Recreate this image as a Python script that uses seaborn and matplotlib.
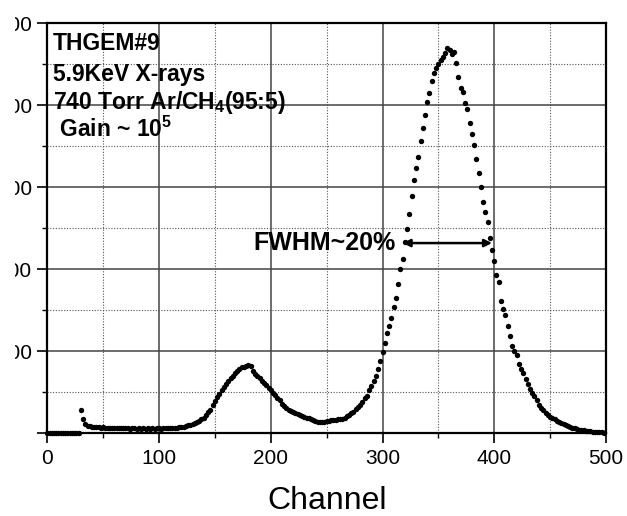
import numpy as np
import pandas as pd
import matplotlib
matplotlib.use("Agg")
import matplotlib.pyplot as plt
import seaborn as sns
from matplotlib.patches import Rectangle
from matplotlib.ticker import MultipleLocator

# Pulse-height spectrum, 2-channel bins
channels = np.arange(0, 500, 2)
counts = (
    [0] * 15
    + [58, 34, 22, 18, 17]
    + [16, 15, 16, 15, 14, 15, 14, 13, 14, 13]
    + [14, 13, 12, 13, 12, 13, 12, 11, 12, 12]
    + [11, 12, 11, 12, 11, 12, 11, 12, 11, 12]
    + [12, 11, 12, 12, 13, 12, 13, 13, 14, 15]
    + [15, 16, 17, 19, 21, 23, 25, 28, 31, 34]
    + [38, 44, 51, 58, 68, 79, 88, 97, 106, 113]
    + [120, 128, 134, 140, 146, 152, 157, 161, 162, 165]
    + [167, 163, 152, 145, 139, 134, 128, 123, 117, 111]
    + [106, 99, 93, 87, 80, 72, 66, 61, 57, 55]
    + [52, 50, 47, 45, 42, 40, 38, 37, 35, 32]
    + [30, 28, 27, 27, 28, 29, 30, 32, 32, 33]
    + [34, 34, 36, 38, 41, 44, 49, 53, 60, 64]
    + [68, 77, 86, 92, 106, 115, 128, 140, 156, 176]
    + [198, 220, 244, 262, 282, 308, 330, 364, 400, 425]
    + [466, 499, 534, 580, 618, 648, 675, 712, 745, 776]
    + [808, 830, 860, 880, 890, 900, 910, 918, 928, 941]
    + [936, 926, 930, 904, 870, 843, 833, 805, 791, 758]
    + [730, 702, 668, 636, 600, 565, 540, 515, 476, 448]
    + [420, 386, 368, 323, 303, 288, 262, 237, 214, 200]
    + [190, 170, 157, 146, 133, 121, 107, 98, 90, 80]
    + [70, 62, 57, 50, 44, 40, 37, 34, 30, 27]
    + [25, 23, 21, 18, 16, 13, 12, 11, 9, 8]
    + [7, 6, 6, 5, 4, 4, 3, 3, 2, 1]
)

x_ticks = [0, 100, 200, 300, 400, 500]
y_ticks = [0, 200, 400, 600, 800, 1000]
y_tick_labels = ["", "200", "400", "600", "800", "1000"]

info_lines = [
    "THGEM#9",
    "5.9KeV X-rays",
    r"740 Torr Ar/CH$_\mathbf{4}$(95:5)",
    r" Gain ~ 10$^\mathbf{5}$",
]
fwhm_left, fwhm_right, half_max = 318, 398, 464
fwhm_label = "FWHM~20%"

sns.set_theme(style="ticks")
plt.rcParams["font.family"] = ["Liberation Sans", "DejaVu Sans"]
plt.rcParams["mathtext.fontset"] = "custom"
plt.rcParams["mathtext.rm"] = "Liberation Sans"
plt.rcParams["mathtext.bf"] = "Liberation Sans:bold"

fig = plt.figure(figsize=(6.27, 5.16), dpi=100)
fig.patch.set_facecolor("white")
ax = fig.add_axes([0.0754, 0.1603, 0.8911, 0.7945])

df = pd.DataFrame({"Channel": channels, "Counts": counts})
sns.scatterplot(data=df, x="Channel", y="Counts", ax=ax, s=15, color="black",
                linewidth=0, zorder=4, legend=False, clip_on=False)

ax.set_xlim(0, 500)
ax.set_ylim(0, 1000)
ax.set_xticks(x_ticks)
ax.set_yticks(y_ticks)
ax.set_yticklabels(y_tick_labels)
ax.xaxis.set_minor_locator(MultipleLocator(50))
ax.yaxis.set_minor_locator(MultipleLocator(100))

ax.grid(which="major", color="#444444", linewidth=1.1, linestyle="-", zorder=1)
ax.grid(which="minor", color="#555555", linewidth=0.8, linestyle=(0, (1, 1.5)), zorder=1)
ax.set_axisbelow(True)

for s in ax.spines.values():
    s.set_visible(True)
    s.set_color("black")
    s.set_linewidth(1.6)

ax.tick_params(which="major", direction="out", length=7, width=1.2, color="black",
               labelsize=15, labelcolor="black", pad=4)
ax.tick_params(which="minor", direction="out", length=3.5, width=1.0, color="black")

ax.set_xlabel("Channel", fontsize=23, labelpad=13, color="black")
ax.set_ylabel("")

baselines = [0.935, 0.859, 0.791, 0.723]
for txt, yb in zip(info_lines, baselines):
    ax.text(0.010, yb, txt, transform=ax.transAxes, ha="left", va="baseline",
            fontsize=16.5, fontweight="bold", color="black", zorder=5)

ax.annotate("", xy=(fwhm_left, half_max), xytext=(fwhm_right, half_max),
            arrowprops=dict(arrowstyle="<|-|>", color="black", lw=1.8,
                            mutation_scale=11, shrinkA=0, shrinkB=0), zorder=5)
ax.text(312, 446, fwhm_label, ha="right", va="baseline", fontsize=18,
        fontweight="bold", color="black", zorder=5)

# left margin trim
fig.patches.append(Rectangle((0, 0), 15 / 627, 1, transform=fig.transFigure,
                             facecolor="white", edgecolor="none", zorder=10))

fig.savefig("out.png", dpi=100, facecolor="white")
